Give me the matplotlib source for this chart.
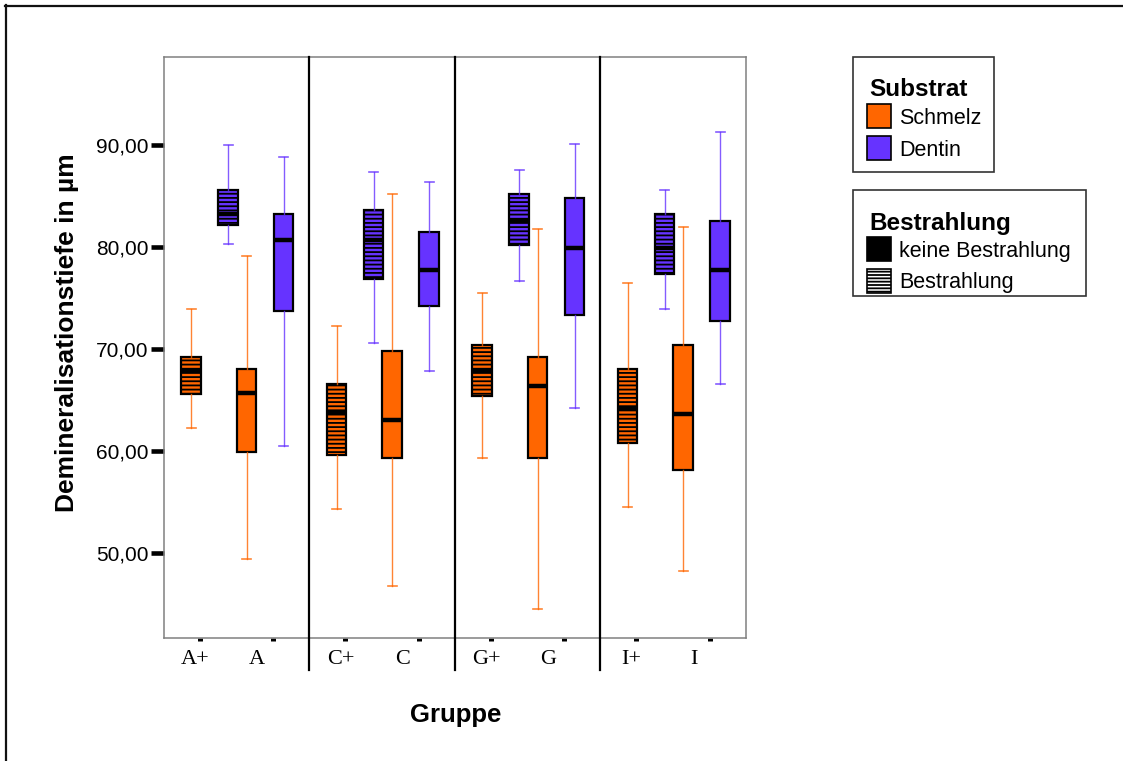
import matplotlib
matplotlib.use("Agg")
import matplotlib.pyplot as plt
from matplotlib.patches import Rectangle

plt.rcParams['font.family'] = ['Liberation Sans', 'DejaVu Sans']
plt.rcParams['hatch.linewidth'] = 1.3

# ---------------- data ----------------
categories = ['A+', 'A', 'C+', 'C', 'G+', 'G', 'I+', 'I']
# [whislo, q1, median, q3, whishi]
schmelz = {
    'A+': [62.3, 65.6, 67.8, 69.2, 73.9],
    'A':  [49.4, 59.9, 65.7, 68.0, 79.1],
    'C+': [54.3, 59.6, 63.8, 66.6, 72.3],
    'C':  [46.8, 59.3, 63.0, 69.8, 85.2],
    'G+': [59.3, 65.4, 67.8, 70.4, 75.5],
    'G':  [44.5, 59.3, 66.4, 69.2, 81.8],
    'I+': [54.5, 60.8, 64.2, 68.0, 76.5],
    'I':  [48.2, 58.1, 63.6, 70.4, 82.0],
}
dentin = {
    'A+': [80.3, 82.2, 83.2, 85.6, 90.0],
    'A':  [60.5, 73.7, 80.7, 83.2, 88.8],
    'C+': [70.6, 76.9, 80.7, 83.6, 87.4],
    'C':  [67.8, 74.2, 77.7, 81.5, 86.4],
    'G+': [76.7, 80.2, 82.6, 85.2, 87.6],
    'G':  [64.2, 73.3, 79.9, 84.8, 90.1],
    'I+': [73.9, 77.4, 79.9, 83.2, 85.6],
    'I':  [66.6, 72.7, 77.7, 82.6, 91.3],
}
yticks = [50, 60, 70, 80, 90]
substrat_labels = ['Schmelz', 'Dentin']
bestrahlung_labels = ['keine Bestrahlung', 'Bestrahlung']

ORANGE = '#FF6600'
BLUE = '#6633FF'
colors = {'Schmelz': ORANGE, 'Dentin': BLUE}

# ---------------- layout ----------------
W, H = 1123, 761
fig = plt.figure(figsize=(W / 100, H / 100), dpi=100)

ov = fig.add_axes([0, 0, 1, 1])
ov.set_xlim(0, W)
ov.set_ylim(H, 0)
ov.axis('off')
ov.set_zorder(0)

ax_left, ax_right, ax_top, ax_bot = 163.5, 745.5, 57, 638
ax = fig.add_axes([ax_left / W, (H - ax_bot) / H, (ax_right - ax_left) / W, (ax_bot - ax_top) / H])
ax.set_zorder(1)
GW = 145.5  # group width
ax.set_xlim(0, 4 * GW)
ax.set_ylim(41.67, 98.63)

offsets = {('plus', 'Schmelz'): 27.5, ('plus', 'Dentin'): 64.5,
           ('none', 'Schmelz'): 83.0, ('none', 'Dentin'): 120.0}

stats, positions, box_colors, box_hatch = [], [], [], []
for i, cat in enumerate(categories):
    g = i // 2
    kind = 'plus' if cat.endswith('+') else 'none'
    for sub, src in (('Schmelz', schmelz), ('Dentin', dentin)):
        lo, q1, med, q3, hi = src[cat]
        stats.append(dict(whislo=lo, q1=q1, med=med, q3=q3, whishi=hi, fliers=[], label=cat))
        positions.append(g * GW + offsets[(kind, sub)])
        box_colors.append(colors[sub])
        box_hatch.append(kind == 'plus')

res = ax.bxp(stats, positions=positions, widths=19.6, patch_artist=True,
             showfliers=False, capwidths=9, manage_ticks=False,
             boxprops=dict(edgecolor='black', linewidth=1.6),
             medianprops=dict(color='black', linewidth=3.2, solid_capstyle='butt'),
             whiskerprops=dict(linewidth=1.0),
             capprops=dict(linewidth=1.2))
for k, box in enumerate(res['boxes']):
    box.set_facecolor(box_colors[k])
    if box_hatch[k]:
        box.set_hatch('----')
    for ln in res['whiskers'][2 * k:2 * k + 2] + res['caps'][2 * k:2 * k + 2]:
        ln.set_color(box_colors[k])
        ln.set_alpha(0.8)

# separators
trans = ax.get_xaxis_transform()
for g in range(1, 4):
    ax.plot([g * GW, g * GW], [-0.055, 1], transform=trans, color='black', lw=1.6,
            clip_on=False, zorder=3)

# spines
for sp in ax.spines.values():
    sp.set_color('#808080')
    sp.set_linewidth(1.1)

# ticks
major_x = [g * GW + off for g in range(4) for off in (36.0, 109.5)]
label_x = [g * GW + off for g in range(4) for off in (31.5, 93.5)]
ax.set_xticks(major_x)
ax.set_xticklabels([])
ax.set_xticks(label_x, minor=True)
ax.set_xticklabels(categories, minor=True, fontfamily='Liberation Serif', fontsize=16)
ax.tick_params(axis='x', which='major', length=2.2, width=3.6, color='black', direction='out')
ax.tick_params(axis='x', which='minor', length=0, pad=8.5)

ax.set_yticks(yticks)
ax.set_yticklabels([f"{v:.2f}".replace('.', ',') for v in yticks], fontsize=15)
ax.tick_params(axis='y', length=9.4, width=3.3, pad=1.5, color='black')

# axis titles
ov.text(67, 333, 'Demineralisationstiefe in µm', rotation=90, ha='center', va='center',
        fontsize=19, fontweight='bold')
ov.text(456, 715, 'Gruppe', ha='center', va='center', fontsize=18.5, fontweight='bold')

# outer frame (top & left)
ov.plot([5, W], [5.5, 5.5], color='#111111', lw=1.6)
ov.plot([5.5, 5.5], [5, H], color='#111111', lw=1.6)

# legends
ov.add_patch(Rectangle((853, 57), 141, 115, fill=False, ec='#333333', lw=1.2))
ov.text(869, 95.5, 'Substrat', fontsize=17.5, fontweight='bold', va='baseline')
for j, (lab, y0, base) in enumerate(zip(substrat_labels, (103.5, 135.5), (124, 156))):
    ov.add_patch(Rectangle((867, y0), 24, 24, fc=colors[lab], ec='black', lw=1.2))
    ov.text(899, base, lab, fontsize=15.5, va='baseline')

ov.add_patch(Rectangle((853, 190), 233, 106, fill=False, ec='#333333', lw=1.2))
ov.text(869, 230, 'Bestrahlung', fontsize=17.5, fontweight='bold', va='baseline')
ov.add_patch(Rectangle((867, 236.5), 24, 24, fc='black', ec='black', lw=1.2))
ov.text(899, 256.5, bestrahlung_labels[0], fontsize=15.5, va='baseline')
ov.add_patch(Rectangle((867, 268.5), 24, 24, fc='white', ec='black', lw=1.2, hatch='-----'))
ov.text(899, 288, bestrahlung_labels[1], fontsize=15.5, va='baseline')

fig.savefig('out.png', dpi=100)
